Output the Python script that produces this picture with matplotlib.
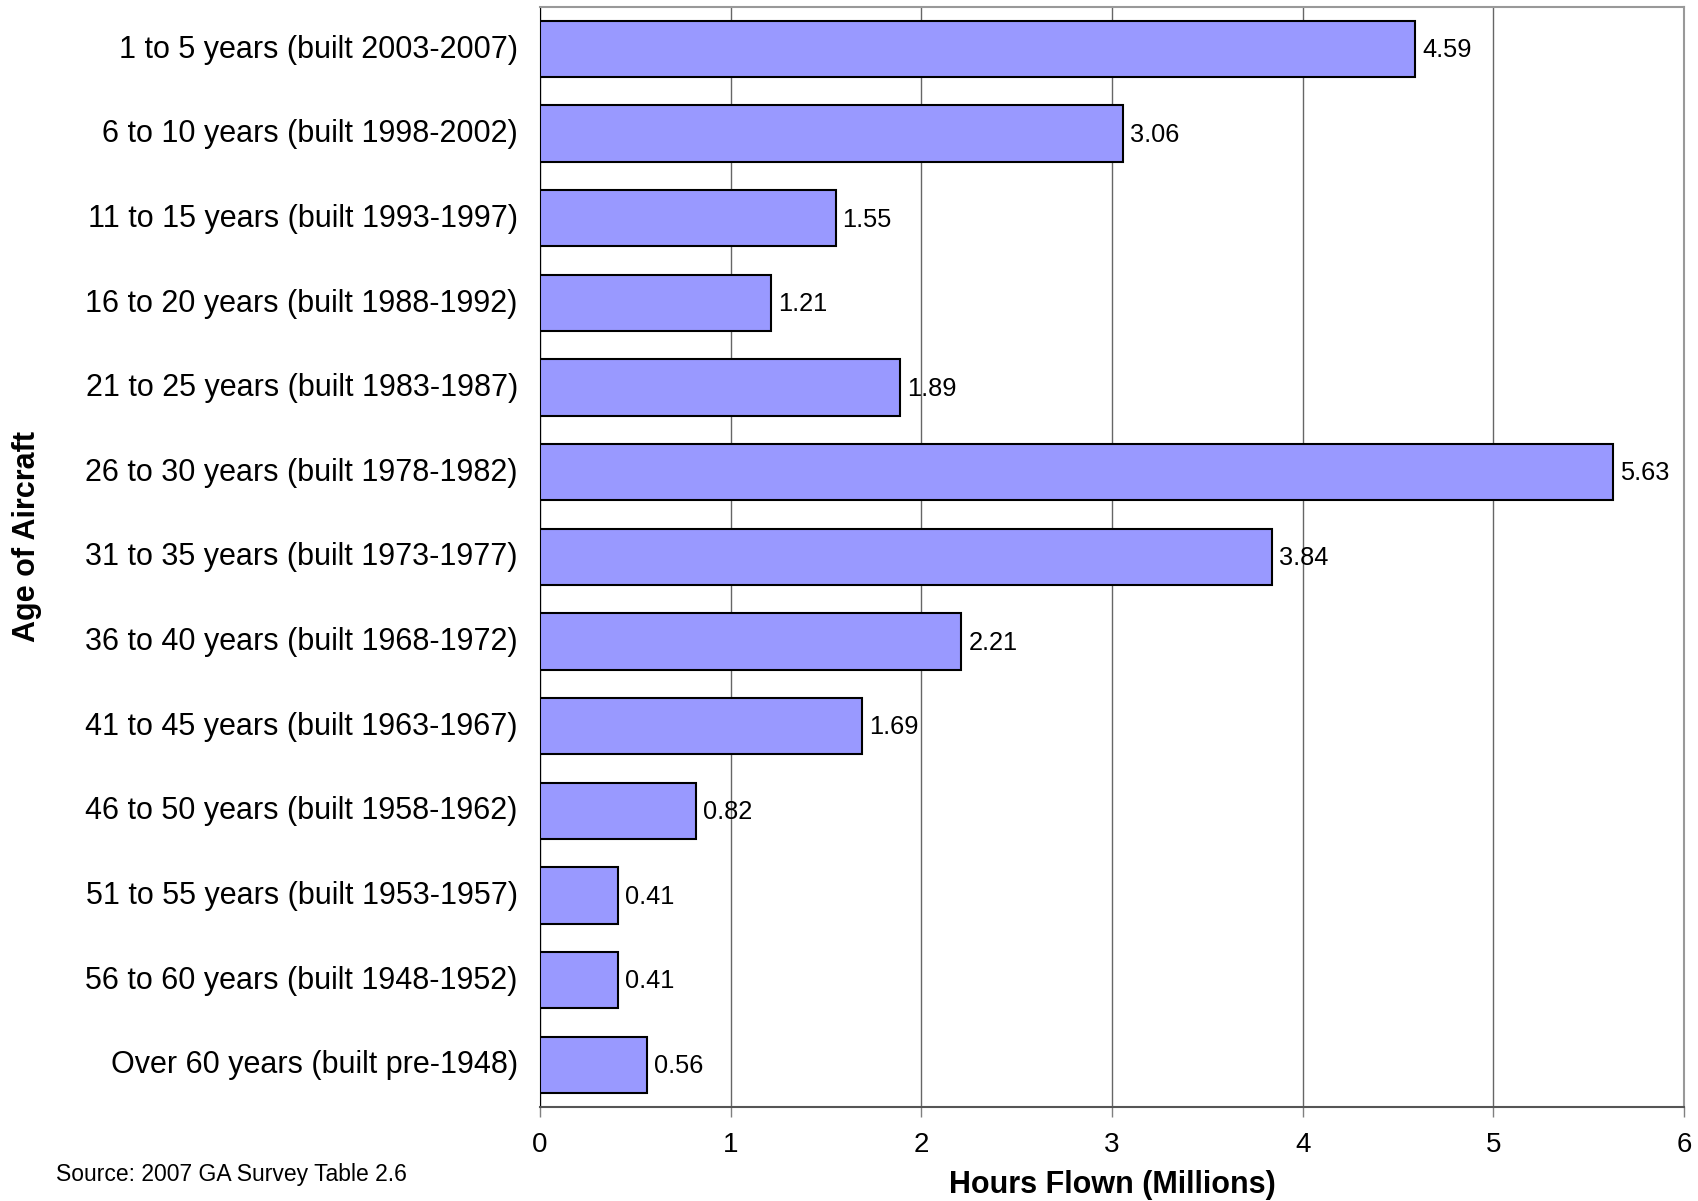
import matplotlib
matplotlib.use("Agg")
import matplotlib.pyplot as plt
import matplotlib.transforms as mtransforms

plt.rcParams['font.family'] = ['Liberation Sans', 'DejaVu Sans']

ages = ['1 to 5 years (built 2003-2007)', '6 to 10 years (built 1998-2002)',
        '11 to 15 years (built 1993-1997)', '16 to 20 years (built 1988-1992)',
        '21 to 25 years (built 1983-1987)', '26 to 30 years (built 1978-1982)',
        '31 to 35 years (built 1973-1977)', '36 to 40 years (built 1968-1972)',
        '41 to 45 years (built 1963-1967)', '46 to 50 years (built 1958-1962)',
        '51 to 55 years (built 1953-1957)', '56 to 60 years (built 1948-1952)',
        'Over 60 years (built pre-1948)']
hours = [4.59, 3.06, 1.55, 1.21, 1.89, 5.63, 3.84, 2.21, 1.69, 0.82, 0.41, 0.41, 0.56]
xticks = [0, 1, 2, 3, 4, 5, 6]

fig = plt.figure(figsize=(16.98, 12.01), dpi=100)
ax = fig.add_axes([540/1698, 1-1107/1201, (1684-540)/1698, (1107-6.5)/1201])

pos = list(range(len(ages)))
ax.barh(pos, hours, height=0.665, color='#9999FF', edgecolor='black', linewidth=1.5, zorder=3)
for p, v in zip(pos, hours):
    ax.annotate(f'{v:.2f}', (v, p), xytext=(5, -1), textcoords='offset points',
                va='center', ha='left', fontsize=18.3, zorder=4)

ax.set_ylim(len(ages)-0.5, -0.5)
ax.set_xlim(0, 6)
ax.set_xticks(xticks)
ax.set_yticks(pos)
ax.set_yticklabels(ages, fontsize=22)
ax.tick_params(axis='y', length=0, pad=16)
ax.tick_params(axis='x', labelsize=20, length=7, width=1, color='#808080', pad=11)

# nudge the category labels up a little
shift = mtransforms.ScaledTranslation(0, 2/72, fig.dpi_scale_trans)
for lab in ax.get_yticklabels():
    lab.set_transform(lab.get_transform() + shift)

ax.grid(axis='x', color='#666666', linewidth=1, zorder=0)
ax.spines['top'].set_color('#999999')
ax.spines['right'].set_color('#999999')
ax.spines['top'].set_linewidth(1.5)
ax.spines['right'].set_linewidth(1.5)
ax.spines['left'].set_color('black')
ax.spines['bottom'].set_color('#555555')
ax.spines['bottom'].set_linewidth(1.5)

ax.set_xlabel('Hours Flown (Millions)', fontsize=22, fontweight='bold', labelpad=9)
fig.text(27/1698, 1-537/1201, 'Age of Aircraft', rotation=90, fontsize=22,
         fontweight='bold', ha='center', va='center')
fig.text(56/1698, 1-1175/1201, 'Source: 2007 GA Survey Table 2.6', fontsize=16.5,
         ha='left', va='center')

plt.savefig('out.png', dpi=100)
